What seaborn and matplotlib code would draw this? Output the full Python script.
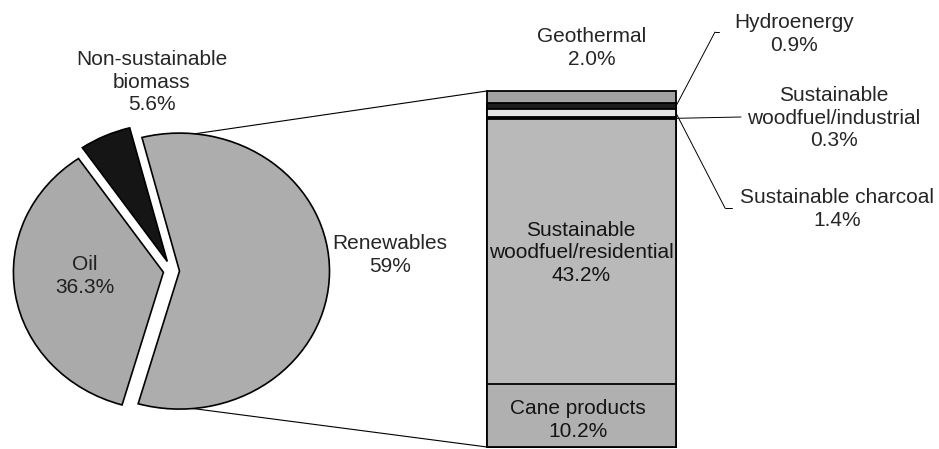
import numpy as np
import pandas as pd
import seaborn as sns
import matplotlib.pyplot as plt
from matplotlib.patches import ConnectionPatch

# energy mix shares (%)
pie_names = ['Renewables', 'Non-sustainable\nbiomass', 'Oil']
pie_values = [59, 5.6, 36.3]
pie_colors = ['#adadad', '#151515', '#aaaaaa']
pie_explode = [0.05, 0.076, 0.058]

# breakdown of renewables, bottom to top of the column
ren_names = ['Cane products', 'Sustainable\nwoodfuel/residential', 'Sustainable\nwoodfuel/industrial',
             'Sustainable charcoal', 'Hydroenergy', 'Geothermal']
ren_values = [10.2, 43.2, 0.3, 1.4, 0.9, 2.0]
ren_colors = ['#b0b0b0', '#b9b9b9', '#111111', '#e4e4e4', '#1c1c1c', '#a2a2a2']

def pct(v):
    return '%d%%' % v if v == int(v) and v > 10 else '%.1f%%' % v

sns.set_style('white')
plt.rcParams['font.family'] = ['Liberation Sans', 'DejaVu Sans']

W, H = 939, 449
fig = plt.figure(figsize=(W / 100, H / 100), dpi=100)

def box(x0, y0, x1, y1):
    # pixel box (top-left origin) -> figure fraction
    return [x0 / W, 1 - y1 / H, (x1 - x0) / W, (y1 - y0) / H]

# pie: centre ~ (172, 271) px, radii 150 x 138 px
cx, cy, rx, ry = 172, 271, 150, 138
xl, yl = (-1.1, 1.2), (-1.15, 1.15)
ax_pie = fig.add_axes(box(cx + xl[0] * rx, cy - yl[1] * ry, cx + xl[1] * rx, cy - yl[0] * ry))
wedges, _ = ax_pie.pie(pie_values, colors=pie_colors, explode=pie_explode, startangle=-106,
                       counterclock=True, wedgeprops=dict(edgecolor='black', linewidth=1.2))
ax_pie.set_aspect('auto')
ax_pie.set_xlim(*xl)
ax_pie.set_ylim(*yl)
ax_pie.axis('off')

# stacked column of renewables
df = pd.DataFrame({'part': ren_names, 'share': ren_values, 'color': ren_colors})
df['top'] = df['share'].cumsum()
total = df['share'].sum()
ax_bar = fig.add_axes(box(487, 91, 676, 447))
for _, row in df.iloc[::-1].iterrows():
    sns.barplot(x=['mix'], y=[row['top']], color=row['color'], width=1, saturation=1,
                edgecolor='black', linewidth=1.3, ax=ax_bar)
for p in ax_bar.patches:
    p.set_clip_on(False)
ax_bar.set_xlim(-0.5, 0.5)
ax_bar.set_ylim(0, total)
ax_bar.axis('off')

# zoom lines pie -> column
off = pie_explode[0]
for ang, yb in [(84, total), (-85, 0)]:
    a = np.deg2rad(ang)
    cp = ConnectionPatch(xyA=(np.cos(a) + off, np.sin(a)), coordsA=ax_pie.transData,
                         xyB=(-0.5, yb), coordsB=ax_bar.transData, color='black', lw=0.8)
    fig.add_artist(cp)

# overlay in pixel coordinates for labels
ov = fig.add_axes([0, 0, 1, 1])
ov.set_xlim(0, W)
ov.set_ylim(H, 0)
ov.axis('off')

fs = 15
txt = dict(ha='center', va='center', fontsize=fs, linespacing=1.25)
ov.text(152, 82, pie_names[1] + '\n' + pct(pie_values[1]), **txt)
ov.text(85, 276, pie_names[2] + '\n' + pct(pie_values[2]), color='#202020', **txt)
ov.text(390, 255, pie_names[0] + '\n' + pct(pie_values[0]), **txt)

ov.text(578, 420, ren_names[0] + '\n' + pct(ren_values[0]), color='#151515', **txt)
ov.text(581, 253, ren_names[1] + '\n' + pct(ren_values[1]), color='#151515', **txt)
ov.text(592, 48, ren_names[5] + '\n' + pct(ren_values[5]), **txt)
ov.text(794, 34, ren_names[4] + '\n' + pct(ren_values[4]), **txt)
ov.text(834, 118, ren_names[2] + '\n' + pct(ren_values[2]), **txt)
ov.text(837, 209, ren_names[3] + '\n' + pct(ren_values[3]), **txt)

# leader lines from the thin bands
mids = (df['top'] - df['share'] / 2).tolist()
leaders = [(4, (715, 32), (719, 32)), (2, (741, 117), None), (3, (725, 208), (732, 208))]
for i, end, tick in leaders:
    cp = ConnectionPatch(xyA=(0.5, mids[i]), coordsA=ax_bar.transData,
                         xyB=end, coordsB=ov.transData, color='black', lw=0.7)
    fig.add_artist(cp)
    if tick:
        ov.plot([end[0], tick[0]], [end[1], tick[1]], color='black', lw=0.7)

fig.savefig('out.png', dpi=100)
